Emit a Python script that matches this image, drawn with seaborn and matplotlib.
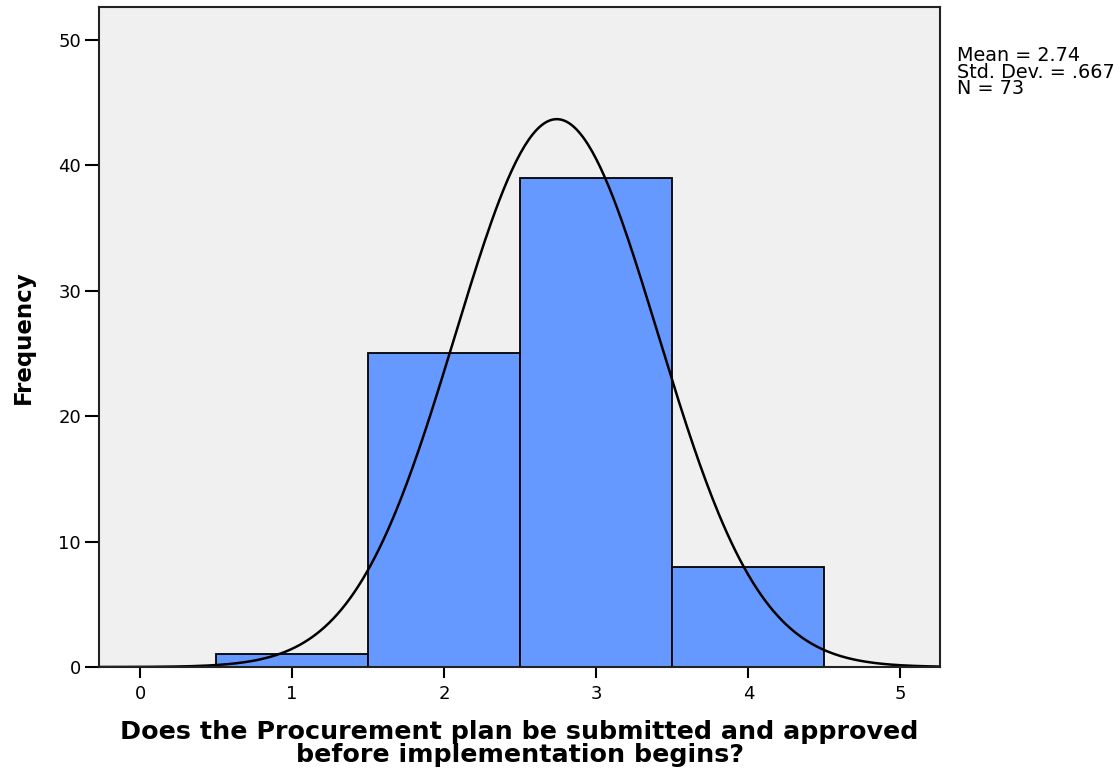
import numpy as np
import pandas as pd
import matplotlib
matplotlib.use("Agg")
import matplotlib.pyplot as plt
import seaborn as sns

# Data
categories = [1, 2, 3, 4]
counts = [1, 25, 39, 8]
mean_val = 2.74
std_val = 0.667
n_val = 73
bin_edges = [0.5, 1.5, 2.5, 3.5, 4.5]
x_ticks = [0, 1, 2, 3, 4, 5]
y_ticks = [0, 10, 20, 30, 40, 50]

sns.set_style("ticks")
plt.rcParams['font.family'] = ['DejaVu Sans']
plt.rcParams['text.color'] = 'black'
plt.rcParams['axes.labelcolor'] = 'black'

fig = plt.figure(figsize=(11.2, 7.75), dpi=100)
ax = fig.add_axes([99/1120, 1-667/775, (940-99)/1120, (667-7)/775])
ax.set_facecolor('#f0f0f0')

df = pd.DataFrame({'value': categories, 'count': counts})
sns.histplot(data=df, x='value', weights='count', bins=bin_edges, ax=ax,
             color='#6699ff', edgecolor='black', linewidth=1.3, alpha=1)

xmin, xmax = -0.27, 5.26
xs = np.linspace(xmin, xmax, 400)
ys = n_val * 1.0 * np.exp(-0.5 * ((xs - mean_val) / std_val) ** 2) / (std_val * np.sqrt(2 * np.pi))
ax.plot(xs, ys, color='black', linewidth=1.8)

ax.set_xlim(xmin, xmax)
ax.set_ylim(0, 52.6)
ax.set_xticks(x_ticks)
ax.set_yticks(y_ticks)
ax.tick_params(axis='both', labelsize=13, width=1.5, colors='black')
ax.tick_params(axis='y', length=10, pad=3)
ax.tick_params(axis='x', length=8, pad=5)
for s in ax.spines.values():
    s.set_visible(True)
    s.set_color('#222222')
    s.set_linewidth(1.5)

ax.set_ylabel('Frequency', fontsize=16.5, fontweight='bold', labelpad=17)
ax.set_xlabel('Does the Procurement plan be submitted and approved\nbefore implementation begins?',
              fontsize=18.3, fontweight='bold', linespacing=0.98, labelpad=12)

fig.text(957/1120, 1-46/775, 'Mean = 2.74\nStd. Dev. = .667\nN = 73',
         fontsize=13.8, va='top', ha='left', linespacing=0.85)

fig.savefig('out.png', dpi=100)
